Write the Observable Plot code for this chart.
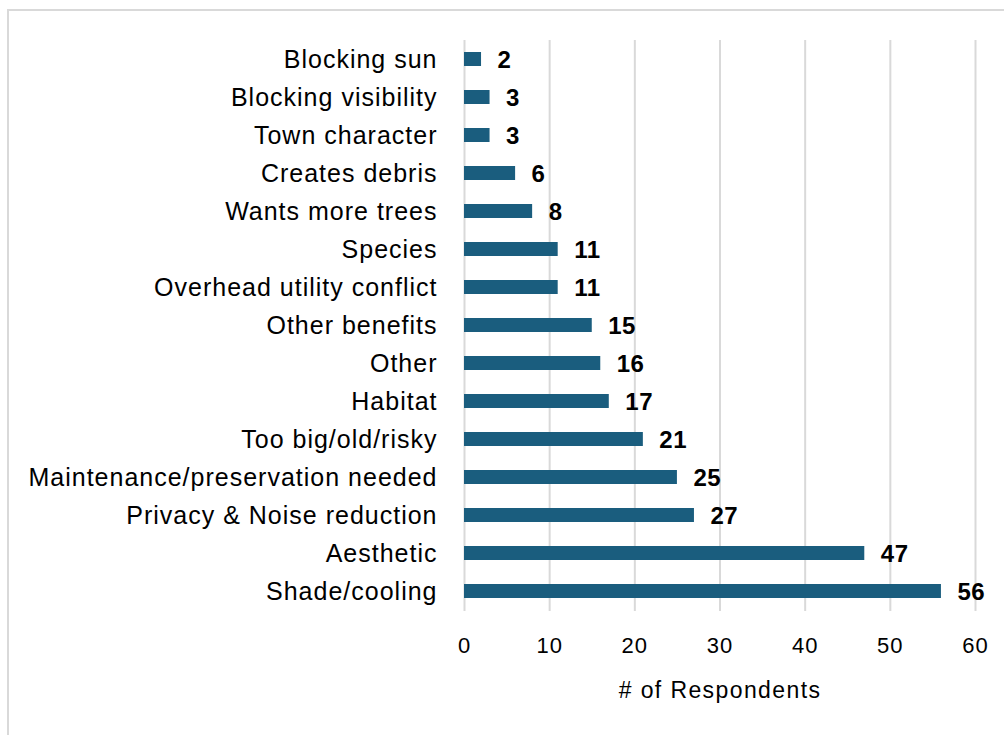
<!DOCTYPE html>
<html>
<head>
<meta charset="utf-8">
<script src="https://cdn.jsdelivr.net/npm/d3@7"></script>
<script src="https://cdn.jsdelivr.net/npm/@observablehq/plot@0.6"></script>
<style>
  html, body { margin: 0; padding: 0; background: #fff; overflow: hidden; }
  #wrap { position: relative; width: 1004px; height: 735px; }
  #frame { position: absolute; left: 7px; top: 9px; width: 1100px; height: 800px; border: 2px solid #d9d9d9; box-sizing: border-box; }
  #chart { position: absolute; left: 0; top: 0; }
  #chart g[aria-label="y-axis tick label"] { letter-spacing: 1px; }
  #chart g[aria-label="x-axis tick label"] { letter-spacing: 1px; }
  #chart g.value-labels { letter-spacing: 0.5px; }
  #chart g.axis-title { letter-spacing: 1.4px; }
</style>
</head>
<body>
<div id="wrap"><div id="frame"></div><div id="chart"></div></div>
<script>
const categories = [
  "Blocking sun", "Blocking visibility", "Town character", "Creates debris",
  "Wants more trees", "Species", "Overhead utility conflict", "Other benefits",
  "Other", "Habitat", "Too big/old/risky", "Maintenance/preservation needed",
  "Privacy & Noise reduction", "Aesthetic", "Shade/cooling"
];
const counts = [2, 3, 3, 6, 8, 11, 11, 15, 16, 17, 21, 25, 27, 47, 56];
const xTicks = [0, 10, 20, 30, 40, 50, 60];
const xTitle = "# of Respondents";

const data = categories.map((c, i) => ({category: c, count: counts[i]}));
const font = "'Liberation Sans', Arial, sans-serif";

const chart = Plot.plot({
  width: 1004,
  height: 735,
  marginLeft: 464,
  marginRight: 29,
  marginTop: 40,
  marginBottom: 124,
  style: {fontFamily: font, background: "transparent", color: "#000"},
  x: {domain: [0, 60], ticks: xTicks},
  y: {domain: categories, paddingInner: 0.63, paddingOuter: 0.315},
  marks: [
    Plot.gridX(xTicks, {stroke: "#d9d9d9", strokeOpacity: 1, strokeWidth: 2}),
    Plot.barX(data, {x: "count", y: "category", fill: "#1a5d7e"}),
    Plot.text(data, {x: "count", y: "category", text: d => String(d.count), textAnchor: "start", dx: 16, dy: 1, fontSize: 24, fontWeight: "bold", fill: "#000", className: "value-labels"}),
    Plot.axisY({tickSize: 0, tickPadding: 27, fontSize: 25, label: null, color: "#000"}),
    Plot.axisX(xTicks, {tickSize: 0, tickPadding: 26, fontSize: 22, label: null, color: "#000"}),
    Plot.text([xTitle], {frameAnchor: "bottom", dy: 79, lineAnchor: "middle", fontSize: 23, fill: "#000", className: "axis-title"})
  ]
});
document.getElementById("chart").appendChild(chart);
</script>
</body>
</html>
